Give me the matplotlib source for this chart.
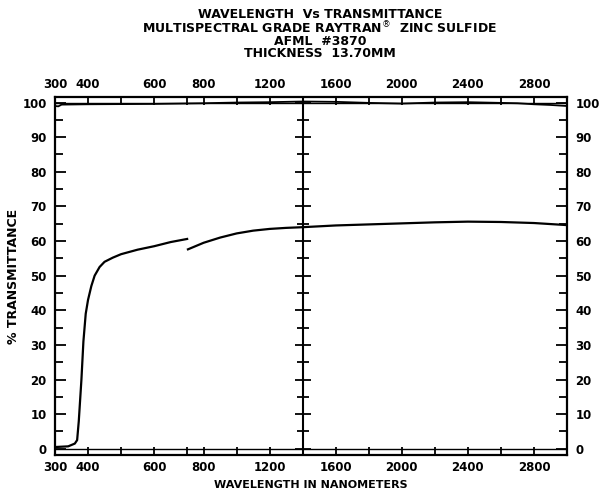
import numpy as np
import matplotlib
matplotlib.use("Agg")
import matplotlib.pyplot as plt
from matplotlib.ticker import FixedLocator, FixedFormatter

# ---------------- data ----------------
# sample transmittance, first range (before the grating change)
wl_seg1 = [300, 340, 360, 367, 372, 380, 386, 393, 400, 410, 420, 435, 450,
           475, 500, 550, 600, 650, 700]
tr_seg1 = [0.5, 0.7, 1.5, 2.5, 8.0, 20.0, 31.0, 39.0, 43.0, 47.0, 50.0, 52.5, 54.0,
           55.2, 56.2, 57.5, 58.5, 59.7, 60.6]
# sample transmittance, second range (after the grating change)
wl_seg2 = [705, 750, 800, 900, 1000, 1100, 1200, 1300, 1400, 1600, 1800, 2000,
           2200, 2400, 2600, 2800, 3000]
tr_seg2 = [57.6, 58.5, 59.5, 61.0, 62.2, 63.0, 63.5, 63.8, 64.0, 64.5, 64.8, 65.1,
           65.4, 65.6, 65.5, 65.2, 64.6]
# 100 % reference line
wl_ref = [300, 310, 320, 400, 600, 800, 1000, 1200, 1400, 1600, 1800, 2000,
          2200, 2400, 2600, 2700, 2800, 2900, 3000]
tr_ref = [99.0, 98.9, 99.4, 99.5, 99.6, 99.8, 100.0, 100.1, 100.3, 100.2, 99.9, 99.7,
          100.0, 100.1, 99.9, 99.8, 99.5, 99.3, 99.0]

divider_nm = 1400
xtick_major = [300, 400, 600, 800, 1200, 1600, 2000, 2400, 2800]
xtick_labels = ["300", "400", "600", "800", "1200", "1600", "2000", "2400", "2800"]
xtick_minor = [500, 700, 1000, 1400, 1800, 2200, 2600, 3000]
ytick_major = list(range(0, 101, 10))
ytick_minor = list(range(5, 100, 10))
ytick_labels = ["0", "10", "20", "30", "40", "50", "60", "70", "80", "90", "100"]

title_lines = ["WAVELENGTH  Vs TRANSMITTANCE",
               r"MULTISPECTRAL GRADE RAYTRAN$^{\circledR}$  ZINC SULFIDE",
               "AFML  #3870",
               "THICKNESS  13.70MM"]

# ---------------- scale (chart paper: 100 nm/div below 700 nm, 200 nm/div above) ----
def fwd(x):
    x = np.asarray(x, dtype=float)
    return np.where(x <= 700, (x - 300) / 100.0, 4 + (x - 700) / 200.0)

def inv(u):
    u = np.asarray(u, dtype=float)
    return np.where(u <= 4, 300 + 100.0 * u, 700 + 200.0 * (u - 4))

plt.rcParams['font.family'] = ['DejaVu Sans']
fig = plt.figure(figsize=(6.0, 4.95), dpi=100)
W, H = 600, 495
L, R, T, B = 55, 567, 97, 455
ax = fig.add_axes([L / W, 1 - B / H, (R - L) / W, (B - T) / H])
ax.set_xscale('function', functions=(fwd, inv))
ax.set_xlim(300, 3000)
ax.set_ylim(-1.8, 101.6)

lw = 1.6
ax.plot(wl_seg1, tr_seg1, color='black', lw=lw)
ax.plot(wl_seg2, tr_seg2, color='black', lw=lw)
ax.plot(wl_ref, tr_ref, color='black', lw=1.3)
ax.axhline(100, color='black', lw=1.0)
ax.axhline(0, color='black', lw=1.0)
ax.axvline(divider_nm, color='black', lw=1.5)
ax.plot([divider_nm] * len(ytick_major), ytick_major, ls='none', marker='_',
        ms=11, mew=1.3, color='black')
ax.plot([divider_nm] * len(ytick_minor), ytick_minor, ls='none', marker='_',
        ms=9, mew=1.3, color='black')

for s in ax.spines.values():
    s.set_linewidth(1.6)

ax.xaxis.set_major_locator(FixedLocator(xtick_major))
ax.xaxis.set_major_formatter(FixedFormatter(xtick_labels))
ax.xaxis.set_minor_locator(FixedLocator(xtick_minor))
ax.yaxis.set_major_locator(FixedLocator(ytick_major))
ax.yaxis.set_major_formatter(FixedFormatter(ytick_labels))
ax.yaxis.set_minor_locator(FixedLocator(ytick_minor))

ax.tick_params(axis='x', which='both', direction='in', top=True, bottom=True,
               labeltop=True, labelbottom=True, length=6, width=1.3, pad=4)
ax.tick_params(axis='y', which='both', direction='in', left=True, right=True,
               labelleft=True, labelright=True, length=8, width=1.3, pad=6)
ax.tick_params(axis='y', which='minor', length=6)
for lab in ax.get_xticklabels() + ax.get_yticklabels():
    lab.set_fontsize(8.5)
    lab.set_fontweight('bold')

ax.set_ylabel("% TRANSMITTANCE", fontsize=9, fontweight='bold', labelpad=2)
ax.set_xlabel("WAVELENGTH IN NANOMETERS", fontsize=8, fontweight='bold', labelpad=5)

cx = (L + R) / 2 / W + 0.015
fig.text(cx, 1 - 8 / H, "\n".join(title_lines), ha='center', va='top',
         multialignment='center', fontsize=9, fontweight='bold', linespacing=0.9)

fig.savefig("out.png", dpi=100)
